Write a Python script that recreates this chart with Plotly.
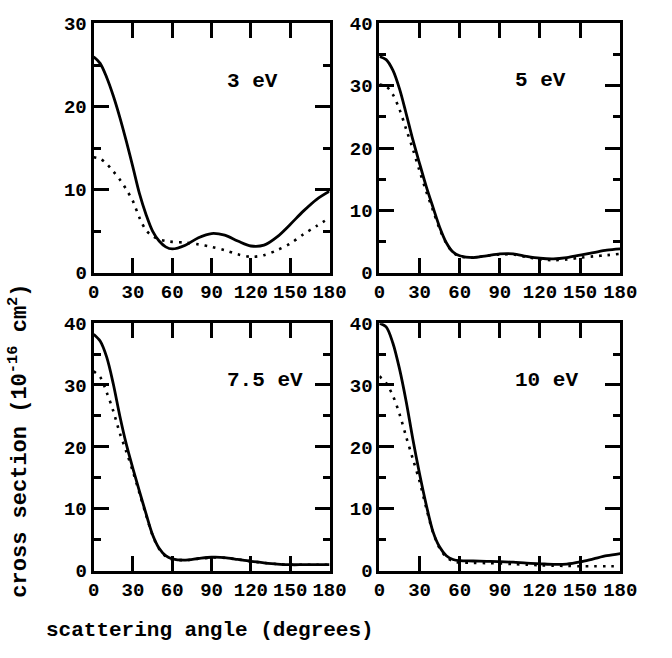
import plotly.graph_objects as go

# Scattering angles (degrees) at which the curves are sampled
angle = [0, 5, 10, 15, 20, 25, 30, 35, 40, 45, 50, 55, 60,
         70, 80, 90, 100, 110, 120, 130, 140, 150, 160, 170, 180]

# 3 eV
solid_3 = [26.0, 25.2, 23.5, 21.3, 18.7, 15.8, 12.7, 9.5, 7.0, 5.0, 3.8, 3.1, 2.85,
           3.3, 4.2, 4.7, 4.5, 3.8, 3.2, 3.3, 4.3, 5.8, 7.4, 8.8, 9.8]
dot_3 = [13.9, 13.7, 13.1, 12.2, 11.2, 10.0, 8.6, 6.6, 5.1, 4.4, 4.0, 3.8, 3.7,
         3.6, 3.4, 3.1, 2.7, 2.2, 1.9, 2.1, 2.7, 3.5, 4.6, 5.6, 6.6]

# 5 eV
solid_5 = [34.7, 34.2, 32.5, 29.5, 25.5, 21.3, 17.5, 13.8, 10.5, 7.3, 4.8, 3.3, 2.7,
           2.4, 2.7, 3.0, 3.0, 2.6, 2.3, 2.2, 2.4, 2.8, 3.2, 3.6, 3.8]
dot_5 = [30.2, 29.9, 28.6, 26.2, 23.0, 19.8, 16.3, 13.0, 10.0, 7.0, 4.7, 3.2, 2.6,
         2.4, 2.7, 2.9, 2.9, 2.5, 2.1, 2.0, 2.1, 2.4, 2.6, 2.8, 3.0]

# 7.5 eV
solid_75 = [38.2, 37.1, 34.5, 30.2, 25.0, 20.4, 16.5, 12.8, 9.2, 5.8, 3.6, 2.4, 1.9,
            1.7, 1.95, 2.15, 2.1, 1.8, 1.5, 1.25, 1.05, 0.95, 0.95, 0.95, 0.95]
dot_75 = [32.2, 31.3, 28.8, 25.8, 22.2, 19.2, 16.0, 12.5, 9.0, 5.7, 3.5, 2.3, 1.8,
          1.7, 1.9, 2.1, 2.05, 1.8, 1.5, 1.25, 1.05, 0.95, 0.95, 0.95, 0.95]

# 10 eV
solid_10 = [40.0, 39.4, 36.8, 32.6, 27.3, 21.2, 15.6, 10.6, 6.3, 3.8, 2.4, 1.8, 1.6,
            1.55, 1.5, 1.45, 1.35, 1.2, 1.1, 1.0, 1.05, 1.4, 1.9, 2.4, 2.75]
dot_10 = [31.4, 30.3, 28.3, 25.3, 21.6, 18.0, 14.4, 10.1, 6.2, 3.6, 2.2, 1.5, 1.3,
          1.25, 1.2, 1.15, 1.05, 0.95, 0.85, 0.8, 0.75, 0.7, 0.7, 0.7, 0.7]

panels = [
    ("3 eV", solid_3, dot_3, 30),
    ("5 eV", solid_5, dot_5, 40),
    ("7.5 eV", solid_75, dot_75, 40),
    ("10 eV", solid_10, dot_10, 40),
]

x_ticks = [0, 30, 60, 90, 120, 150, 180]

W, H = 672, 658
# panel boxes in pixels: (left, right, top, bottom)
boxes = [
    (90.7, 335.0, 15.0, 272.7),
    (386.7, 636.0, 15.0, 272.7),
    (90.7, 335.0, 325.0, 581.0),
    (386.7, 636.0, 325.0, 581.0),
]

FONT = "Liberation Mono"
tick_font = dict(family=FONT, size=19, color="black", weight="bold")
label_font = dict(family=FONT, size=21, color="black", weight="bold")

fig = go.Figure()
layout = dict(
    width=W, height=H,
    margin=dict(l=0, r=0, t=0, b=0),
    paper_bgcolor="white", plot_bgcolor="white",
    showlegend=False,
)
annotations = []

for i, (name, solid, dotted, ymax) in enumerate(panels):
    n = i + 1
    xa = "x" if n == 1 else f"x{n}"
    ya = "y" if n == 1 else f"y{n}"
    fig.add_trace(go.Scatter(x=angle, y=solid, mode="lines", xaxis=xa, yaxis=ya,
                             line=dict(color="black", width=2.8, shape="spline",
                                       smoothing=0.9)))
    fig.add_trace(go.Scatter(x=angle, y=dotted, mode="lines", xaxis=xa, yaxis=ya,
                             line=dict(color="black", width=2.6, shape="spline",
                                       smoothing=0.9, dash="2.6px,6px")))
    l, r, t, b = boxes[i]
    xkey = "xaxis" if n == 1 else f"xaxis{n}"
    ykey = "yaxis" if n == 1 else f"yaxis{n}"
    layout[xkey] = dict(
        domain=[l / W, r / W], anchor=ya, range=[0, 180],
        tickvals=x_ticks, ticktext=[str(v) for v in x_ticks],
        ticks="inside", ticklen=15, tickwidth=2.5, tickcolor="black",
        showline=True, linewidth=3, linecolor="black", mirror="ticks",
        showgrid=False, zeroline=False, tickfont=tick_font,
    )
    layout[ykey] = dict(
        domain=[1 - b / H, 1 - t / H], anchor=xa, range=[0, ymax],
        dtick=10, tick0=0,
        ticks="inside", ticklen=15, tickwidth=2.5, tickcolor="black",
        minor=dict(dtick=5, tick0=0, ticks="inside", ticklen=7, tickwidth=2.5,
                   tickcolor="black"),
        showline=True, linewidth=3, linecolor="black", mirror="ticks",
        showgrid=False, zeroline=False, tickfont=tick_font,
    )
    label_y = 23 if ymax == 30 else 30.8
    annotations.append(dict(
        x=100, y=label_y, xref=xa, yref=ya, text=name, showarrow=False,
        xanchor="left", yanchor="middle", font=label_font,
    ))

annotations.append(dict(
    x=211 / W, y=1 - 643 / H, xref="paper", yref="paper",
    text="scattering angle (degrees)", showarrow=False,
    xanchor="center", yanchor="middle", font=label_font,
))
annotations.append(dict(
    x=12 / W, y=1 - 447 / H, xref="paper", yref="paper",
    text="cross section (10<sup>-16</sup> cm<sup>2</sup>)", showarrow=False,
    textangle=-90, xanchor="center", yanchor="middle",
    font=dict(family=FONT, size=22, color="black", weight="bold"),
))
layout["annotations"] = annotations

fig.update_layout(**layout)
fig.write_html("out.html")
